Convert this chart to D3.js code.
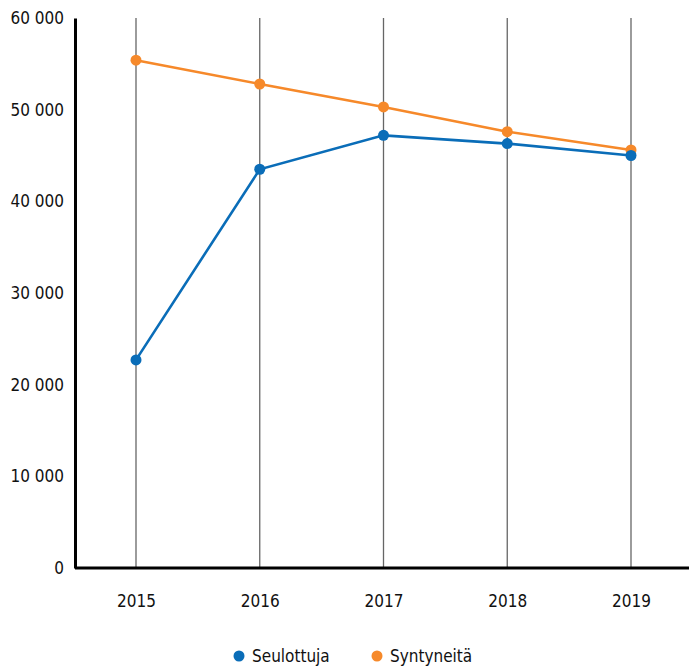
<!DOCTYPE html>
<html><head><meta charset="utf-8">
<script src="https://cdn.jsdelivr.net/npm/d3@7"></script>
<style>
body{margin:0;background:#fff;}
text{font-family:"Liberation Sans Narrow","DejaVu Sans Condensed","Arial Narrow",sans-serif;font-stretch:condensed;fill:#111;}
</style></head><body>
<svg id="c" width="689" height="666"></svg>
<script>
const years = ["2015","2016","2017","2018","2019"];
const seulottuja = [22700, 43500, 47200, 46300, 45000];
const syntyneita = [55400, 52800, 50300, 47600, 45600];
const yTicks = [0,10000,20000,30000,40000,50000,60000];
const seriesNames = ["Seulottuja","Syntyneitä"];
const colors = ["#0a6db8","#f6892a"];

(function(){
const svg = d3.select("#c");
const mLeft = 75, mRight = 689, mTop = 18, mBottom = 568;
const x = d3.scalePoint().domain(years).range([136, 631]);
const y = d3.scaleLinear().domain([0,60000]).range([mBottom, mTop]);

svg.append("g").selectAll("line").data(years).join("line")
  .attr("x1", d=>x(d)).attr("x2", d=>x(d))
  .attr("y1", y(60000)).attr("y2", mBottom)
  .attr("stroke","#666").attr("stroke-width",1.3);

const fmt = v => v===0 ? "0" : d3.format(",")(v).replace(/,/g," ");
const yAxis = d3.axisLeft(y).tickValues(yTicks).tickSize(0).tickPadding(11).tickFormat(fmt);
const gy = svg.append("g").attr("transform",`translate(${mLeft},0)`).call(yAxis);
gy.select(".domain").attr("stroke","#000").attr("stroke-width",3);
gy.selectAll("text").attr("font-size",17).attr("dy","0.32em");

const xAxis = d3.axisBottom(x).tickSize(0).tickPadding(27);
const gx = svg.append("g").attr("transform",`translate(0,${mBottom})`).call(xAxis);
gx.select(".domain").attr("d",`M${mLeft},0H${mRight}`).attr("stroke","#000").attr("stroke-width",3);
gx.selectAll("text").attr("font-size",17);

const data = [seulottuja, syntyneita];
const line = d3.line().x((d,i)=>x(years[i])).y(d=>y(d));
[1,0].forEach(s=>{
  svg.append("path").datum(data[s]).attr("d",line).attr("fill","none")
    .attr("stroke",colors[s]).attr("stroke-width",2.6);
  svg.append("g").selectAll("circle").data(data[s]).join("circle")
    .attr("cx",(d,i)=>x(years[i])).attr("cy",d=>y(d)).attr("r",5.5)
    .attr("fill",colors[s]);
});

const lg = svg.append("g");
const lx = [239, 377];
seriesNames.forEach((n,i)=>{
  lg.append("circle").attr("cx",lx[i]).attr("cy",656).attr("r",5.5).attr("fill",colors[i]);
  lg.append("text").attr("x",lx[i]+13).attr("y",656).attr("dy","0.35em").attr("font-size",17).text(n);
});
})();
</script></body></html>
